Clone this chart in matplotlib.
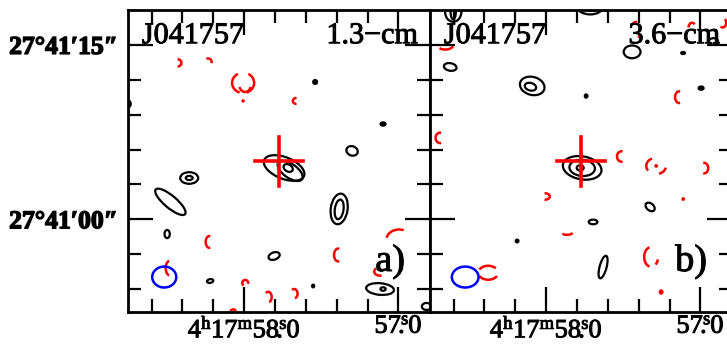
import numpy as np
import matplotlib
matplotlib.use('Agg')
import matplotlib.pyplot as plt
import matplotlib.patheffects as pe
from matplotlib.patches import Ellipse, Arc

plt.rcParams['font.family'] = ['Liberation Serif', 'DejaVu Serif']
plt.rcParams['mathtext.default'] = 'regular'

# arcsec per second of RA at dec +27.7
SEC = 15 * np.cos(np.deg2rad(27.695))

source = 'J041757'
bands = ['1.3\u2212cm', '3.6\u2212cm']
tags = ['a)', 'b)']

ra_major = [58.0, 57.0]
ra_minor = [58.6, 58.4, 58.2, 57.8, 57.6, 57.4, 57.2]
ra_labels = [r'$4^{h}17^{m}58^{s}\hspace{-0.42}.\hspace{-0.06}0$',
             r'$57^{s}\hspace{-0.42}.\hspace{-0.06}0$']
dec_major = [0, 15]
dec_minor = [-6, -3, 3, 6, 9, 12]
dec_labels = ['27\u00b041\u203200\u2033', '27\u00b041\u203215\u2033']

# offsets in arcsec from 4h17m58.0s, 27d41m00s
cross_pos = (-3.0, 5.0)

# positive contours: x, y, width, height, angle
pos_a = [
    (-3.44, 4.41, 3.7, 1.85, 22),
    (-3.96, 4.16, 2.5, 1.2, 35),
    (-3.79, 4.41, 0.85, 0.6, 30),
    (4.73, 3.55, 1.55, 1.0, 0),
    (4.73, 3.55, 0.6, 0.35, 0),
    (6.35, 1.5, 3.3, 1.05, 40),
    (-8.18, 0.89, 1.45, 2.65, 8),
    (-8.18, 0.85, 0.75, 1.7, 8),
    (-9.29, 5.88, 1.0, 0.8, 20),
    (6.63, -1.27, 0.45, 0.7, 0),
    (2.93, -5.31, 0.55, 0.32, -10),
    (-2.58, -3.16, 1.0, 0.62, -20),
    (-11.7, -6.0, 2.4, 1.0, 5),
    (-11.96, -6.0, 0.45, 0.3, 0),
    (-15.7, -7.5, 0.8, 0.6, 0),
]
dots_a = [(-11.96, 8.19, 0.5, 0.35), (-6.11, 11.81, 0.4, 0.4),
          (9.98, 9.92, 0.5, 0.65), (-5.94, -5.74, 0.25, 0.3)]
# negative contours: x, y, width, height, angle, theta1, theta2
neg_a = [
    (5.68, 13.45, 0.55, 0.6, 0, 80, 280),
    (3.10, 13.53, 0.6, 0.6, 0, 60, 200),
    (0.09, 11.73, 1.9, 1.75, 0, -70, 60),
    (0.09, 11.73, 1.9, 1.75, 0, 120, 250),
    (-0.08, 11.55, 1.0, 1.2, 0, 200, 340),
    (-4.47, 10.18, 0.55, 0.5, 0, -100, 100),
    (3.01, -1.95, 0.6, 1.0, 0, -100, 100),
    (6.45, -4.2, 0.6, 1.2, 0, -90, 90),
    (-0.09, -5.47, 0.5, 0.5, 0, -60, 200),
    (-2.07, -6.69, 0.6, 0.9, 0, 60, 260),
    (-4.3, -6.4, 0.6, 0.8, 0, 60, 260),
    (0.95, -7.9, 0.4, 0.3, 0, 0, 180),
    (-8.09, -3.07, 0.7, 1.1, 0, -100, 100),
    (-13.34, -1.78, 2.2, 1.8, 0, 10, 115),
    (-11.7, -4.5, 1.0, 0.7, 0, 250, 400),
]
negdots_a = [(0.09, 10.18, 0.18, 0.18)]
beam_a = (6.88, -4.97, 2.07, 1.8)

pos_b = [
    (-3.1, 4.42, 3.36, 1.98, 10),
    (-3.1, 4.42, 2.2, 1.4, 5),
    (-2.93, 4.42, 0.6, 0.45, 0),
    (8.0, 17.84, 1.4, 1.7, 0),
    (8.0, 17.84, 0.45, 1.3, 0),
    (8.26, 13.1, 1.1, 0.65, 10),
    (1.2, 11.47, 2.15, 1.55, 15),
    (1.35, 11.4, 1.0, 0.65, 15),
    (-3.79, 18.27, 2.2, 1.3, 0),
    (-3.79, 18.27, 1.2, 0.7, 0),
    (-7.4, 14.4, 1.45, 1.1, 0),
    (-14.4, 15.3, 0.8, 0.55, 0),
    (-8.95, 1.06, 0.9, 0.6, 40),
    (-4.04, -0.23, 0.75, 0.4, 0),
    (-4.9, -4.11, 0.6, 2.0, 15),
]
dots_b = [(-3.44, 10.6, 0.3, 0.35), (-11.79, 14.3, 0.4, 0.25),
          (-13.34, 11.28, 0.5, 0.35), (2.5, -1.87, 0.3, 0.3)]
neg_b = [
    (8.69, 15.0, 1.4, 0.8, 0, 190, 330),
    (-7.75, 16.72, 0.6, 0.5, 0, 0, 110),
    (-8.1, 15.9, 0.9, 0.4, 0, 220, 320),
    (-12.56, 16.5, 0.6, 0.8, 0, 0, 130),
    (-15.2, 16.9, 0.6, 0.8, 0, 120, 300),
    (-11.45, 10.5, 0.7, 1.0, 0, -100, 100),
    (9.12, 7.0, 0.8, 0.9, 0, -100, 100),
    (-6.5, 5.4, 0.8, 0.9, 0, -100, 100),
    (-9.47, 4.59, 1.7, 1.4, 0, -30, 60),
    (-9.47, 4.59, 1.7, 1.4, 0, 190, 250),
    (-13.6, 4.4, 0.7, 0.9, 0, 80, 280),
    (0.09, 1.96, 0.8, 0.55, 0, 80, 280),
    (-1.8, -1.09, 1.0, 0.5, 0, 190, 340),
    (4.99, -4.6, 1.7, 1.2, 0, 20, 150),
    (4.99, -4.6, 1.7, 1.2, 0, 200, 340),
    (-9.04, -3.24, 1.2, 1.7, 0, -80, 80),
    (-9.04, -3.24, 1.2, 1.7, 0, 200, 240),
]
negdots_b = [(-9.47, 4.59, 0.2, 0.2), (-11.8, 1.74, 0.2, 0.2), (-9.9, -6.26, 0.3, 0.35)]
beam_b = (6.97, -4.97, 2.3, 1.8)

panels = [(pos_a, dots_a, neg_a, negdots_a, beam_a),
          (pos_b, dots_b, neg_b, negdots_b, beam_b)]

thick = [pe.withStroke(linewidth=0.7, foreground='black')]
bold = [pe.withStroke(linewidth=1.0, foreground='black')]

W, H = 727, 347
fig = plt.figure(figsize=(W / 100, H / 100), dpi=100)

for k, (pos, dots, neg, negdots, beam) in enumerate(panels):
    ax = fig.add_axes([(128 + 302 * k) / W, (H - 311.7) / H, 302 / W, 301.7 / H])
    ax.set_xlim(10.0, -16.0)
    ax.set_ylim(-7.95, 18.0)

    for x, y, w, h, a in pos:
        ax.add_patch(Ellipse((x, y), w, h, angle=a, fill=False, ec='black', lw=1.6))
    for x, y, w, h in dots:
        ax.add_patch(Ellipse((x, y), w, h, fc='black', ec='black', lw=1.0))
    for x, y, w, h, a, t1, t2 in neg:
        ax.add_patch(Arc((x, y), w, h, angle=a, theta1=t1, theta2=t2, color='red', lw=1.8))
    for x, y, w, h in negdots:
        ax.add_patch(Ellipse((x, y), w, h, fc='red', ec='red', lw=1.0))
    bx, by, bw, bh = beam
    ax.add_patch(Ellipse((bx, by), bw, bh, fill=False, ec='blue', lw=1.8))

    cx, cy = cross_pos
    ax.plot([cx - 2.1, cx + 2.1], [cy, cy], color='red', lw=2.6, zorder=5)
    ax.plot([cx, cx], [cy - 2.1, cy + 2.1], color='red', lw=2.6, zorder=5)

    ax.text(0.046, 0.89, source, transform=ax.transAxes, fontsize=21.7,
            va='baseline', ha='left', path_effects=thick)
    ax.text(0.96, 0.89, bands[k], transform=ax.transAxes, fontsize=21.7,
            va='baseline', ha='right', path_effects=thick)
    ax.text(0.917, 0.135, tags[k], transform=ax.transAxes, fontsize=27.5,
            va='baseline', ha='right', path_effects=thick)

    ax.set_xticks([(r - 58.0) * SEC for r in ra_major])
    ax.set_xticks([(r - 58.0) * SEC for r in ra_minor], minor=True)
    ax.set_xticklabels(ra_labels, fontsize=19)
    for t in ax.get_xticklabels():
        t.set_path_effects(thick)
    ax.set_yticks(dec_major)
    ax.set_yticks(dec_minor, minor=True)
    if k == 0:
        ax.set_yticklabels(dec_labels, fontsize=18.5, fontweight='bold')
        for t in ax.get_yticklabels():
            t.set_path_effects(bold)
    else:
        ax.set_yticklabels([])
    ax.tick_params(which='both', direction='in', top=True, right=True, width=1.6)
    ax.tick_params(which='major', length=18)
    ax.tick_params(which='minor', length=9.5)
    ax.tick_params(axis='x', which='major', pad=3)
    ax.tick_params(axis='y', which='major', pad=7)
    for s in ax.spines.values():
        s.set_linewidth(2.0)

fig.savefig('out.png', dpi=100)
